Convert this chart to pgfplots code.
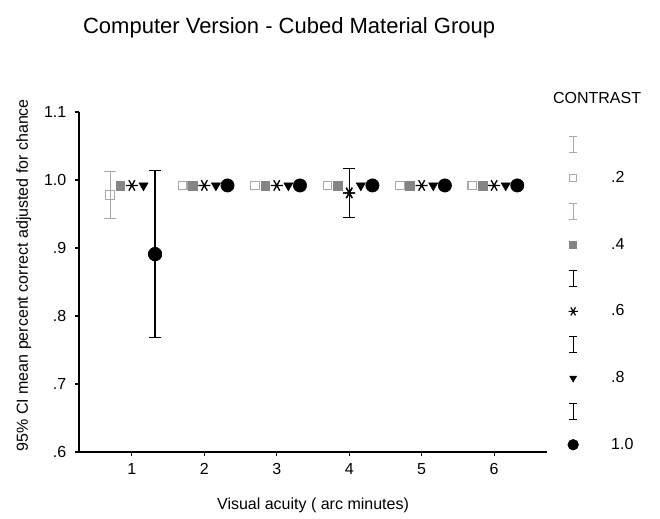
\documentclass[border=0pt]{standalone}
\usepackage{fontspec}
\setmainfont{Liberation Sans}
\usepackage{pgfplots}
\pgfplotsset{compat=1.18}
\definecolor{lg}{gray}{0.66}
\definecolor{mg}{gray}{0.52}
\pgfplotsset{
 ibeam/.style={legend image code/.code={\path[draw=none,fill=none] (0cm,-7pt) rectangle (0.6cm,7pt);
   \draw[##1, line width=0.8pt] (0.3cm,-6pt)--(0.3cm,6pt) (0.3cm-3pt,-6pt)--(0.3cm+3pt,-6pt) (0.3cm-3pt,6pt)--(0.3cm+3pt,6pt);}},
 mk/.style={legend image code/.code={\path[draw=none,fill=none] (0cm,-7pt) rectangle (0.6cm,7pt);
   \draw[##1] plot coordinates {(0.3cm,0cm)};}},
}
\begin{document}
\begin{tikzpicture}
\begin{axis}[
 scale only axis, width=351pt, height=255pt,
 xmin=0.27, xmax=6.73, ymin=0.6, ymax=1.1,
 axis x line*=bottom, axis y line*=left,
 xtick={1,2,3,4,5,6},
 ytick={0.6,0.7,0.8,0.9,1.0,1.1}, yticklabels={.6,.7,.8,.9,1.0,1.1},
 tick align=outside, major tick length=3pt,
 every tick/.style={black, line width=0.8pt},
 axis line style={line width=1pt},
 tick label style={font=\fontsize{12}{14}\selectfont},
 /pgf/number format/assume math mode=true,
 xticklabel style={yshift=-2pt},
 yticklabel style={xshift=-3pt},
 clip=false,
 xlabel={Visual acuity ( arc minutes)},
 ylabel={95\% CI mean percent correct adjusted for chance},
 label style={font=\fontsize{12}{14}\selectfont},
 xlabel style={at={(rel axis cs:0.5,-0.156)}, anchor=center},
 ylabel style={at={(rel axis cs:-0.118,0.52)}, anchor=center, rotate=0},
 legend style={draw=none, fill=none, at={(rel axis cs:1.031,0.932)}, anchor=north west,
   font=\fontsize{12}{14}\selectfont, row sep=11pt, inner sep=0pt,
   nodes={inner sep=0pt},
   /tikz/every odd column/.append style={column sep=20pt}},
 legend cell align=left,
 error bars/error mark=|,
]
% error bars
\addplot[forget plot, lg, only marks, mark=square, mark size=3.3pt, mark options={fill=white, line width=0.8pt},
  error bars/.cd, y dir=both, y explicit, error mark=|, error mark options={lg, mark size=4.5pt, line width=0.8pt},
  error bar style={lg, line width=0.8pt}]
  coordinates {(0.7,0.978) +- (0,0.035)};
\addplot[forget plot, black, only marks, mark=asterisk, mark size=4.5pt, mark options={rotate=90, line width=1pt},
  error bars/.cd, y dir=both, y explicit, error mark=|, error mark options={black, mark size=4.5pt, line width=1pt},
  error bar style={black, line width=1pt}]
  coordinates {(4,0.981) +- (0,0.036)};
\addplot[forget plot, black, only marks, mark=*, mark size=5pt,
  error bars/.cd, y dir=both, y explicit, error mark=|, error mark options={black, mark size=4.5pt, line width=1pt},
  error bar style={black, line width=1pt}]
  coordinates {(1.32,0.891) +- (0,0.123)};
% series
\addplot[forget plot, lg, only marks, mark=square, mark size=3.3pt, mark options={fill=white, line width=0.8pt}]
  coordinates {(0.7,0.978) (1.7,0.992) (2.7,0.992) (3.7,0.992) (4.7,0.992) (5.7,0.992)};
\addplot[forget plot, mg, only marks, mark=square*, mark size=3.3pt]
  coordinates {(0.84,0.992) (1.84,0.992) (2.84,0.992) (3.84,0.992) (4.84,0.992) (5.84,0.992)};
\addplot[forget plot, black, only marks, mark=asterisk, mark size=4.5pt, mark options={rotate=90, line width=1pt}]
  coordinates {(1,0.992) (2,0.992) (3,0.992) (4,0.981) (5,0.992) (6,0.992)};
\addplot[forget plot, black, only marks, mark=triangle*, mark size=4pt, mark options={rotate=180}]
  coordinates {(1.16,0.992) (2.16,0.992) (3.16,0.992) (4.16,0.992) (5.16,0.992) (6.16,0.992)};
\addplot[forget plot, black, only marks, mark=*, mark size=5pt]
  coordinates {(1.32,0.891) (2.32,0.992) (3.32,0.992) (4.32,0.992) (5.32,0.992) (6.32,0.992)};
% legend
\addlegendimage{ibeam, lg}\addlegendentry{}
\addlegendimage{mk, lg, only marks, mark=square, mark size=2.6pt, mark options={fill=white}}\addlegendentry{.2}
\addlegendimage{ibeam, lg}\addlegendentry{}
\addlegendimage{mk, mg, only marks, mark=square*, mark size=2.6pt}\addlegendentry{.4}
\addlegendimage{ibeam, black}\addlegendentry{}
\addlegendimage{mk, black, only marks, mark=asterisk, mark size=3.5pt, mark options={rotate=90, line width=0.9pt}}\addlegendentry{.6}
\addlegendimage{ibeam, black}\addlegendentry{}
\addlegendimage{mk, black, only marks, mark=triangle*, mark size=3pt, mark options={rotate=180}}\addlegendentry{.8}
\addlegendimage{ibeam, black}\addlegendentry{}
\addlegendimage{mk, black, only marks, mark=*, mark size=4pt}\addlegendentry{1.0}
\node[font=\fontsize{16.5}{19}\selectfont] at (rel axis cs:0.449,1.247) {Computer Version - Cubed Material Group};
\node[font=\fontsize{12}{14}\selectfont] at (rel axis cs:1.107,1.041) {CONTRAST};
\end{axis}
\pgfresetboundingbox
\path (-59.25pt,-49.5pt) rectangle (435.75pt,339pt);
\end{tikzpicture}
\end{document}
